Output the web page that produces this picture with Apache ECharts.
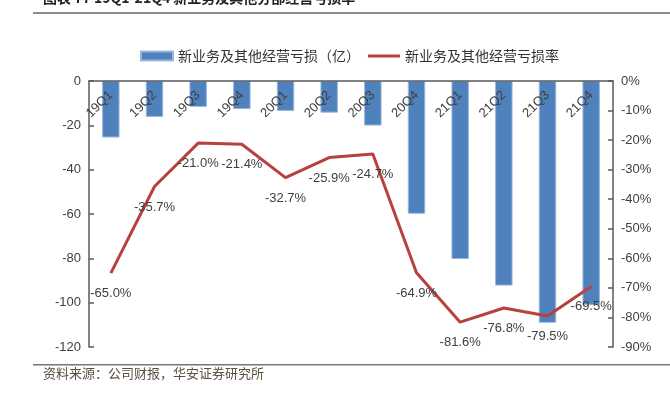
<!DOCTYPE html>
<html>
<head>
<meta charset="utf-8">
<script src="https://cdn.jsdelivr.net/npm/echarts@6/dist/echarts.min.js"></script>
<style>
  html, body { margin: 0; padding: 0; background: #fff; }
  #chart { width: 670px; height: 398px; }
</style>
</head>
<body>
<div id="chart"></div>
<script>
// 新业务及其他分部经营亏损 / 亏损率
var quarters = ["19Q1", "19Q2", "19Q3", "19Q4", "20Q1", "20Q2", "20Q3", "20Q4", "21Q1", "21Q2", "21Q3", "21Q4"];
var lossValues = [-25.5, -16.2, -11.7, -12.7, -13.5, -14.3, -20.1, -59.9, -80.3, -92.3, -109.1, -101.0];
var lossRates = [-65.0, -35.7, -21.0, -21.4, -32.7, -25.9, -24.7, -64.9, -81.6, -76.8, -79.5, -69.5];
var leftTicks = { min: -120, max: 0, interval: 20 };
var rightTicks = { min: -90, max: 0, interval: 10 };

var barName = "新业务及其他经营亏损（亿）";
var lineName = "新业务及其他经营亏损率";

var myChart = echarts.init(document.getElementById("chart"));
var axisColor = "#595959";
var textColor = "#404040";
var numFont = "Liberation Sans";

var option = {
  animation: false,
  grid: {
    left: 89,
    right: 57,
    top: 81,
    bottom: 51
  },
  legend: {
    top: 44,
    left: 135,
    itemGap: 8,
    itemWidth: 32,
    itemHeight: 9,
    textStyle: {
      fontFamily: "Noto Sans CJK SC",
      fontSize: 14,
      color: "#333"
    },
    data: [
      { name: barName, icon: "rect" },
      { name: lineName, icon: "path://M0,0 L40,0 L40,4 L0,4 Z", itemStyle: { color: "#B7413E" } }
    ]
  },
  graphic: [
    {
      type: "text",
      left: 43,
      top: -9,
      style: {
        text: "图表 77 19Q1-21Q4 新业务及其他分部经营亏损率",
        font: "bold 14px 'Noto Sans CJK SC'",
        fill: "#222"
      }
    },
    {
      type: "rect",
      shape: { x: 33, y: 12, width: 637, height: 2 },
      style: { fill: "#8c8c8c" }
    },
    {
      type: "rect",
      shape: { x: 33, y: 364, width: 637, height: 1.5 },
      style: { fill: "#777" }
    },
    {
      type: "text",
      left: 43,
      top: 367,
      style: {
        text: "资料来源：公司财报，华安证券研究所",
        font: "13px 'Noto Sans CJK SC'",
        fill: "#5a5040"
      }
    }
  ],
  xAxis: {
    type: "category",
    position: "top",
    data: quarters,
    z: 10,
    axisLine: {
      show: true,
      onZero: false,
      lineStyle: { color: axisColor, width: 1.5 }
    },
    axisTick: { show: false },
    axisLabel: {
      inside: true,
      rotate: -45,
      margin: 12,
      color: textColor,
      fontFamily: numFont,
      fontSize: 13
    }
  },
  yAxis: [
    {
      type: "value",
      min: leftTicks.min,
      max: leftTicks.max,
      interval: leftTicks.interval,
      splitLine: { show: false },
      axisLine: { show: true, lineStyle: { color: axisColor, width: 1.5 } },
      axisTick: { show: true, inside: true, length: 5, lineStyle: { color: axisColor, width: 1.5 } },
      axisLabel: {
        color: textColor,
        fontFamily: numFont,
        fontSize: 13,
        margin: 8
      }
    },
    {
      type: "value",
      min: rightTicks.min,
      max: rightTicks.max,
      interval: rightTicks.interval,
      splitLine: { show: false },
      axisLine: { show: true, lineStyle: { color: axisColor, width: 1.5 } },
      axisTick: { show: true, inside: true, length: 5, lineStyle: { color: axisColor, width: 1.5 } },
      axisLabel: {
        color: textColor,
        fontFamily: numFont,
        fontSize: 13,
        margin: 8,
        formatter: "{value}%"
      }
    }
  ],
  series: [
    {
      name: barName,
      type: "bar",
      yAxisIndex: 0,
      barWidth: "40%",
      itemStyle: {
        color: "#4F81BD",
        borderColor: "#9BB7DC",
        borderWidth: 1
      },
      data: lossValues
    },
    {
      name: lineName,
      type: "line",
      yAxisIndex: 1,
      symbol: "circle",
      symbolSize: 0,
      showSymbol: true,
      lineStyle: { color: "#B7413E", width: 3 },
      itemStyle: { color: "#B7413E" },
      label: {
        show: true,
        position: "bottom",
        distance: 14,
        color: textColor,
        fontFamily: numFont,
        fontSize: 13,
        formatter: function (p) {
          return p.value.toFixed(1) + "%";
        }
      },
      data: lossRates
    }
  ]
};

myChart.setOption(option);
</script>
</body>
</html>
